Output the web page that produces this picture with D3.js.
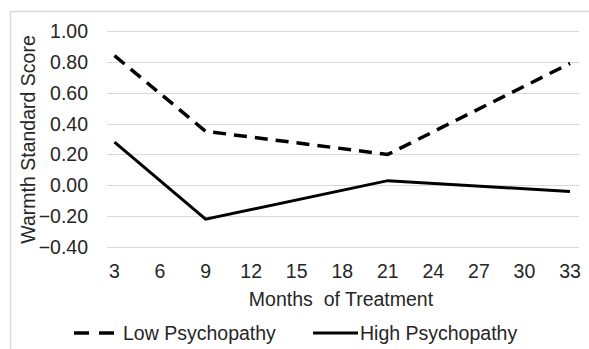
<!DOCTYPE html>
<html><head><meta charset="utf-8">
<script src="https://cdn.jsdelivr.net/npm/d3@7"></script>
<style>body{margin:0;background:#fff}svg{display:block}text{font-family:"Liberation Sans",Arial,sans-serif;fill:#262626}</style>
</head><body><svg id="c" width="589" height="349"></svg>
<script>
const months = [3, 9, 21, 33];
const lowPsychopathy = [0.84, 0.35, 0.20, 0.79];
const highPsychopathy = [0.28, -0.22, 0.03, -0.04];
const xTicks = [3, 6, 9, 12, 15, 18, 21, 24, 27, 30, 33];
const yTicks = [-0.4, -0.2, 0, 0.2, 0.4, 0.6, 0.8, 1.0];
const seriesNames = ["Low Psychopathy", "High Psychopathy"];

const svg = d3.select("#c");
const fs = 19.5;
svg.append("rect").attr("x", 10.5).attr("y", 11.5).attr("width", 600).attr("height", 400)
  .attr("fill", "none").attr("stroke", "#d9d9d9").attr("stroke-width", 1.5);

const x = d3.scaleLinear().domain([3, 33]).range([114.5, 570]);
const y = d3.scaleLinear().domain([-0.4, 1]).range([247, 31]);

svg.append("g").selectAll("line").data(yTicks).join("line")
  .attr("x1", 107).attr("x2", 579)
  .attr("y1", d => Math.round(y(d)) + 0.5).attr("y2", d => Math.round(y(d)) + 0.5)
  .attr("stroke", "#d9d9d9").attr("stroke-width", 1.2);

svg.append("g").selectAll("text").data(yTicks).join("text")
  .attr("x", 88).attr("y", d => y(d) + 7).attr("text-anchor", "end")
  .attr("font-size", fs).text(d => d3.format(".2f")(d));

svg.append("g").selectAll("text").data(xTicks).join("text")
  .attr("x", d => x(d)).attr("y", 277.5).attr("text-anchor", "middle")
  .attr("font-size", fs).text(d => d);

svg.append("text").attr("transform", "translate(35,139.5) rotate(-90)")
  .attr("text-anchor", "middle").attr("font-size", fs).text("Warmth Standard Score");
svg.append("text").attr("x", 341).attr("y", 305.5).attr("text-anchor", "middle")
  .attr("font-size", fs).attr("xml:space", "preserve").text("Months  of Treatment");

const line = d3.line().x((d, i) => x(months[i])).y(d => y(d));
svg.append("path").datum(lowPsychopathy).attr("d", line).attr("fill", "none")
  .attr("stroke", "#000").attr("stroke-width", 3.5).attr("stroke-dasharray", "13,8");
svg.append("path").datum(highPsychopathy).attr("d", line).attr("fill", "none")
  .attr("stroke", "#000").attr("stroke-width", 3);

// legend
svg.append("line").attr("x1", 74).attr("x2", 116).attr("y1", 333).attr("y2", 333)
  .attr("stroke", "#000").attr("stroke-width", 3.5).attr("stroke-dasharray", "15,10");
svg.append("text").attr("x", 123).attr("y", 339.5).attr("font-size", fs).text(seriesNames[0]);
svg.append("line").attr("x1", 313).attr("x2", 358).attr("y1", 333).attr("y2", 333)
  .attr("stroke", "#000").attr("stroke-width", 3);
svg.append("text").attr("x", 360).attr("y", 339.5).attr("font-size", fs).text(seriesNames[1]);
</script></body></html>
